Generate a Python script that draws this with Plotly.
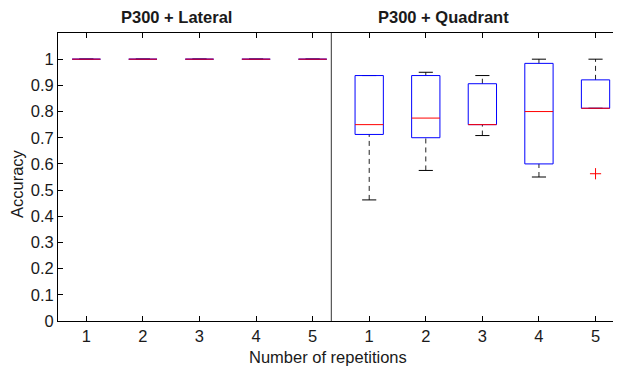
import plotly.graph_objects as go

# ---- data ----
positions = [1, 2, 3, 4, 5, 6, 7, 8, 9, 10]
tick_labels = ["1", "2", "3", "4", "5", "1", "2", "3", "4", "5"]

lateral_q1 = [1.0, 1.0, 1.0, 1.0, 1.0]
lateral_med = [1.0, 1.0, 1.0, 1.0, 1.0]
lateral_q3 = [1.0, 1.0, 1.0, 1.0, 1.0]
lateral_lo = [1.0, 1.0, 1.0, 1.0, 1.0]
lateral_hi = [1.0, 1.0, 1.0, 1.0, 1.0]

quad_q1 = [0.7125, 0.70, 0.75, 0.60, 0.8125]
quad_med = [0.75, 0.775, 0.75, 0.80, 0.8125]
quad_q3 = [0.9375, 0.9375, 0.90625, 0.984, 0.921]
quad_lo = [0.4625, 0.575, 0.7083, 0.55, 0.8125]
quad_hi = [0.9375, 0.95, 0.9375, 1.0, 1.0]

outlier_pos = [10]
outlier_val = [0.5625]

separator_x = 5.33
box_half = 0.25
cap_half = 0.125

q1 = lateral_q1 + quad_q1
med = lateral_med + quad_med
q3 = lateral_q3 + quad_q3
lo = lateral_lo + quad_lo
hi = lateral_hi + quad_hi

# ---- build traces ----
wx, wy, cx, cy, bx, by, mx, my = [], [], [], [], [], [], [], []
for p, a, m, b, l, h in zip(positions, q1, med, q3, lo, hi):
    if h > b:
        wx += [p, p, None]; wy += [b, h, None]
    if l < a:
        wx += [p, p, None]; wy += [l, a, None]
    cx += [p - cap_half, p + cap_half, None, p - cap_half, p + cap_half, None]
    cy += [h, h, None, l, l, None]
    bx += [p - box_half, p + box_half, p + box_half, p - box_half, p - box_half, None]
    by += [a, a, b, b, a, None]
    mx += [p - box_half, p + box_half, None]
    my += [m, m, None]

fig = go.Figure()
fig.add_trace(go.Scatter(x=wx, y=wy, mode="lines",
                         line=dict(color="#222222", width=1, dash="5px,4px"),
                         hoverinfo="skip"))
fig.add_trace(go.Scatter(x=cx, y=cy, mode="lines",
                         line=dict(color="black", width=1), hoverinfo="skip"))
fig.add_trace(go.Scatter(x=bx, y=by, mode="lines",
                         line=dict(color="#0000ff", width=1), hoverinfo="skip"))
fig.add_trace(go.Scatter(x=mx, y=my, mode="lines",
                         line=dict(color="#ff0000", width=1), hoverinfo="skip"))
fig.add_trace(go.Scatter(x=outlier_pos, y=outlier_val, mode="markers",
                         marker=dict(symbol="cross-thin", size=8,
                                     line=dict(color="#ff0000", width=1)),
                         hoverinfo="skip"))
fig.add_trace(go.Scatter(x=[separator_x, separator_x], y=[0, 1.1], mode="lines",
                         line=dict(color="#333333", width=1), hoverinfo="skip"))

font = "Liberation Sans, Arial, Helvetica, sans-serif"
fs = 16.5
fig.update_layout(
    width=613, height=363,
    margin=dict(l=50, r=0, t=25, b=50),
    paper_bgcolor="white", plot_bgcolor="white",
    showlegend=False,
    font=dict(family=font, size=fs, color="#1a1a1a"),
    xaxis=dict(range=[0.5, 10.45], tickvals=positions, ticktext=tick_labels,
               ticks="inside", ticklen=5, tickcolor="black",
               showline=True, linecolor="black", linewidth=1, mirror="ticks",
               showgrid=False, zeroline=False, tickfont=dict(size=fs)),
    yaxis=dict(range=[0, 1.1],
               tickvals=[0, 0.1, 0.2, 0.3, 0.4, 0.5, 0.6, 0.7, 0.8, 0.9, 1.0],
               ticktext=["0", "0.1", "0.2", "0.3", "0.4", "0.5", "0.6", "0.7", "0.8", "0.9", "1"],
               ticks="inside", ticklen=5, tickcolor="black",
               showline=True, linecolor="black", linewidth=1, mirror="ticks",
               showgrid=False, zeroline=False, tickfont=dict(size=fs)),
    annotations=[
        dict(text="<b>P300 + Lateral</b>", x=(176 - 58) / 563, y=(321 - 17) / 288,
             xref="paper", yref="paper", showarrow=False, font=dict(size=fs),
             xanchor="center", yanchor="middle"),
        dict(text="<b>P300 + Quadrant</b>", x=(443 - 58) / 563, y=(321 - 17) / 288,
             xref="paper", yref="paper", showarrow=False, font=dict(size=fs),
             xanchor="center", yanchor="middle"),
        dict(text="Number of repetitions", x=(328 - 58) / 563, y=(321 - 357) / 288,
             xref="paper", yref="paper", showarrow=False, font=dict(size=fs),
             xanchor="center", yanchor="middle"),
        dict(text="Accuracy", x=(17 - 58) / 563, y=(321 - 184) / 288, textangle=-90,
             xref="paper", yref="paper", showarrow=False, font=dict(size=fs),
             xanchor="center", yanchor="middle"),
    ],
)

fig.write_html("out.html")
